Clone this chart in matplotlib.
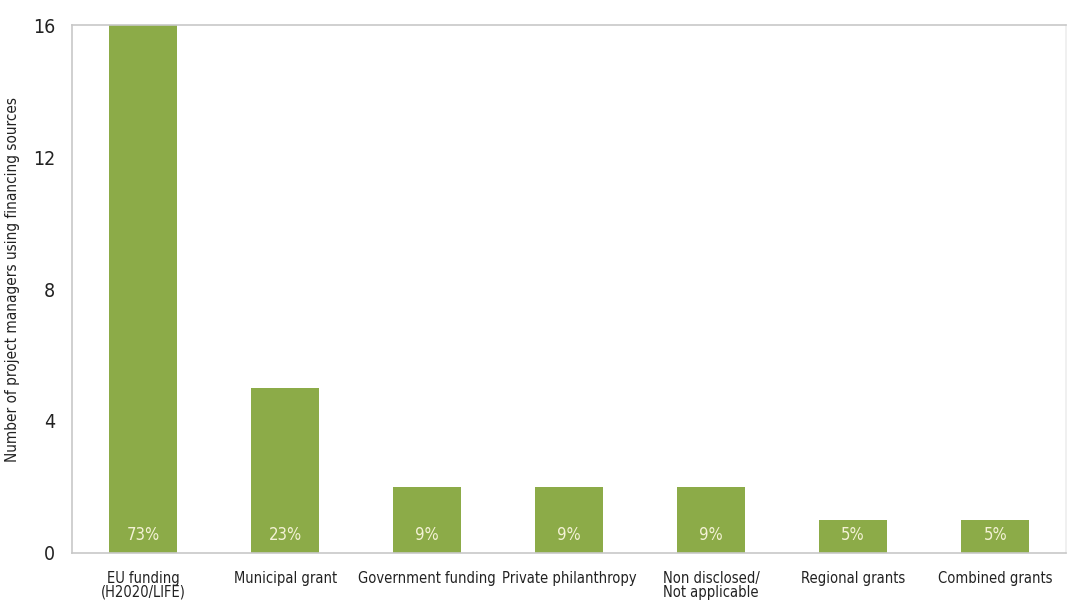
import matplotlib
matplotlib.use('Agg')
import matplotlib.pyplot as plt

plt.rcParams['font.family'] = ['DejaVu Sans']
plt.rcParams['font.stretch'] = 'condensed'

# data
categories = ['EU funding\n(H2020/LIFE)', 'Municipal grant', 'Government funding',
              'Private philanthropy', 'Non disclosed/\nNot applicable',
              'Regional grants', 'Combined grants']
counts = [16, 5, 2, 2, 2, 1, 1]
shares = ['73%', '23%', '9%', '9%', '9%', '5%', '5%']

fig = plt.figure(figsize=(10.69, 6.11), dpi=100)
ax = fig.add_axes([0.0674, 0.095, 0.93, 0.864])

x = list(range(len(categories)))
ax.bar(x, counts, width=0.48, color='#8cab48', zorder=2)

for xi, s in zip(x, shares):
    ax.text(xi, 0.55, s, ha='center', va='center', color='#f4f2d6',
            fontsize=12, zorder=3)

ax.set_xlim(-0.5, 6.5)
ax.set_ylim(0, 16)
ax.set_yticks([0, 4, 8, 12, 16])
ax.set_xticks(x)
ax.set_xticklabels(categories, fontsize=10.5, linespacing=0.9)
ax.tick_params(axis='both', length=0, colors='#222222')
ax.tick_params(axis='y', labelsize=14, pad=12)
ax.tick_params(axis='x', pad=13)
ax.set_ylabel('Number of project managers using financing sources', fontsize=11,
              color='#222222')
ax.yaxis.set_label_coords(-0.052, 0.518)

for side in ['left', 'bottom', 'top', 'right']:
    ax.spines[side].set_color('#c8c8c8')
    ax.spines[side].set_linewidth(1.2)
ax.spines['right'].set_color('#eeeeee')

fig.savefig('out.png', dpi=100)
